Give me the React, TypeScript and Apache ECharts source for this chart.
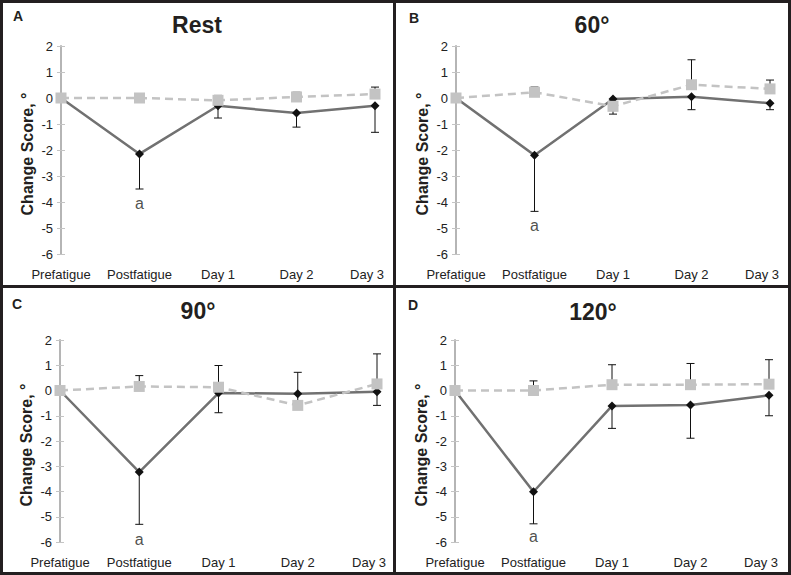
import React, { useEffect, useRef } from "react";
import * as echarts from "echarts";

const categories = ["Prefatigue", "Postfatigue", "Day 1", "Day 2", "Day 3"];
const panelTitles = ["Rest", "60°", "90°", "120°"];
const panelLetters = ["A", "B", "C", "D"];
const yTicks = [-6, -5, -4, -3, -2, -1, 0, 1, 2];

// fatigued group (solid line, diamonds), error bar end (lower)
const restFatigued = [0, -2.15, -0.3, -0.58, -0.3];
const restFatiguedErr = [0, -3.5, -0.77, -1.12, -1.32];
const restControl = [0, 0, -0.09, 0.04, 0.15];
const restControlErr = [0, 0, 0.1, 0.22, 0.42];

const deg60Fatigued = [0, -2.2, -0.04, 0.05, -0.2];
const deg60FatiguedErr = [0, -4.36, -0.62, -0.45, -0.45];
const deg60Control = [0, 0.22, -0.32, 0.51, 0.35];
const deg60ControlErr = [0, 0.42, -0.32, 1.47, 0.69];

const deg90Fatigued = [0, -3.23, -0.1, -0.13, -0.05];
const deg90FatiguedErr = [0, -5.3, -0.88, -0.13, -0.59];
const deg90Control = [0, 0.16, 0.13, -0.59, 0.26];
const deg90ControlErr = [0, 0.59, 0.99, 0.72, 1.45];

const deg120Fatigued = [0, -4.01, -0.61, -0.57, -0.19];
const deg120FatiguedErr = [0, -5.28, -1.5, -1.89, -1.0];
const deg120Control = [0, 0, 0.23, 0.23, 0.25];
const deg120ControlErr = [0, 0.38, 1.02, 1.07, 1.22];

// significance marker "a" at Postfatigue
const sigLabel = "a";
const sigValues = [-4.05, -4.9, -5.9, -5.8];

const fatiguedSets = [restFatigued, deg60Fatigued, deg90Fatigued, deg120Fatigued];
const fatiguedErrSets = [restFatiguedErr, deg60FatiguedErr, deg90FatiguedErr, deg120FatiguedErr];
const controlSets = [restControl, deg60Control, deg90Control, deg120Control];
const controlErrSets = [restControlErr, deg60ControlErr, deg90ControlErr, deg120ControlErr];

const FONT = "'Liberation Sans', Arial, Helvetica, sans-serif";
const INK = "#231f20";

const grids = [
  { left: 61, top: 46, width: 314, height: 208 },
  { left: 456, top: 46, width: 314, height: 208 },
  { left: 60, top: 340, width: 317, height: 202 },
  { left: 455, top: 340, width: 314, height: 202 },
];
const titlePos = [
  [197, 25],
  [592, 25],
  [198, 311],
  [593, 312],
];
const letterPos = [
  [18, 16],
  [414, 18],
  [17, 304],
  [413, 305],
];

function errorBarSeries(gi: number, means: number[], ends: number[], z: number) {
  const data = means
    .map((m, i) => [i, m, ends[i]])
    .filter((d) => Math.abs(d[2] - d[1]) > 0.01);
  return {
    type: "custom",
    xAxisIndex: gi,
    yAxisIndex: gi * 2,
    z,
    silent: true,
    renderItem: (params: any, api: any) => {
      const x = api.value(0);
      const a = api.coord([x, api.value(1)]);
      const b = api.coord([x, api.value(2)]);
      const cap = 4;
      const st = { stroke: "#111", lineWidth: 1 };
      return {
        type: "group",
        children: [
          { type: "line", shape: { x1: a[0], y1: a[1], x2: b[0], y2: b[1] }, style: st },
          { type: "line", shape: { x1: b[0] - cap, y1: b[1], x2: b[0] + cap, y2: b[1] }, style: st },
        ],
      };
    },
    data,
  };
}

export default function App() {
  const ref = useRef<HTMLDivElement>(null);
  useEffect(() => {
    if (!ref.current) return;
    const chart = echarts.init(ref.current, undefined, { renderer: "svg" });

    const xAxis: any[] = [];
    const yAxis: any[] = [];
    const series: any[] = [];
    const graphic: any[] = [];

    grids.forEach((g, i) => {
      xAxis.push({
        gridIndex: i,
        type: "category",
        data: categories,
        boundaryGap: false,
        position: "bottom",
        axisLine: { show: false, onZero: false },
        axisTick: { show: false },
        splitLine: { show: false },
        axisLabel: {
          margin: 14,
          fontSize: 13,
          color: "#222",
          fontFamily: FONT,
          interval: 0,
          formatter: (v: string, idx: number) =>
            idx === categories.length - 1 ? "{last|" + v + "}" : v,
          rich: {
            last: { fontSize: 13, color: "#222", fontFamily: FONT, padding: [0, 16, 0, 0] },
          },
        },
      });
      yAxis.push({
        gridIndex: i,
        type: "value",
        min: yTicks[0],
        max: yTicks[yTicks.length - 1],
        interval: 1,
        splitLine: { show: false },
        axisLine: { show: true, onZero: false, lineStyle: { color: "#b5b5b5", width: 2 } },
        axisTick: { show: true, length: 4, lineStyle: { color: "#c4c4c4", width: 1 } },
        axisLabel: { margin: 8, fontSize: 13, color: "#222", fontFamily: FONT },
        name: "Change Score, °",
        nameLocation: "middle",
        nameGap: 26,
        nameTextStyle: {
          fontSize: 16,
          fontWeight: "bold",
          color: INK,
          fontFamily: FONT,
          padding: [0, 8, 0, 0],
        },
      });
      yAxis.push({
        gridIndex: i,
        type: "value",
        min: yTicks[0],
        max: yTicks[yTicks.length - 1],
        interval: 1,
        position: "left",
        splitLine: { show: false },
        axisLine: { show: false },
        axisTick: { show: true, inside: true, length: 4, lineStyle: { color: "#c4c4c4", width: 1 } },
        axisLabel: { show: false },
      });

      series.push(errorBarSeries(i, fatiguedSets[i], fatiguedErrSets[i], 1));
      series.push(errorBarSeries(i, controlSets[i], controlErrSets[i], 1));
      series.push({
        type: "line",
        xAxisIndex: i,
        yAxisIndex: i * 2,
        z: 3,
        data: fatiguedSets[i],
        symbol: "diamond",
        symbolSize: 9,
        itemStyle: { color: "#111" },
        lineStyle: { color: "#717171", width: 2.5 },
      });
      series.push({
        type: "line",
        xAxisIndex: i,
        yAxisIndex: i * 2,
        z: 4,
        data: controlSets[i],
        symbol: "rect",
        symbolSize: 11,
        itemStyle: { color: "#c3c3c3" },
        lineStyle: { color: "#c3c3c3", width: 2.5, type: [8, 5] },
      });
      series.push({
        type: "scatter",
        xAxisIndex: i,
        yAxisIndex: i * 2,
        z: 5,
        symbolSize: 0,
        data: [[categories[1], sigValues[i]]],
        label: {
          show: true,
          position: "inside",
          formatter: sigLabel,
          fontSize: 16,
          color: INK,
          fontFamily: FONT,
        },
      });

      graphic.push({
        type: "text",
        x: titlePos[i][0],
        y: titlePos[i][1],
        style: {
          text: panelTitles[i],
          fontSize: 23,
          fontWeight: "bold",
          fill: INK,
          fontFamily: FONT,
          align: "center",
          verticalAlign: "middle",
        },
      });
      graphic.push({
        type: "text",
        x: letterPos[i][0],
        y: letterPos[i][1],
        style: {
          text: panelLetters[i],
          fontSize: 14,
          fontWeight: "bold",
          fill: INK,
          fontFamily: FONT,
          align: "center",
          verticalAlign: "middle",
        },
      });
    });

    // panel frames
    const frame = [
      { x: 0, y: 0, width: 3, height: 575 },
      { x: 0, y: 0, width: 791, height: 3 },
      { x: 788, y: 0, width: 3, height: 575 },
      { x: 0, y: 572, width: 791, height: 3 },
      { x: 393, y: 0, width: 3, height: 575 },
      { x: 0, y: 285, width: 791, height: 3 },
    ];
    frame.forEach((r) => {
      graphic.push({ type: "rect", shape: r, style: { fill: INK }, silent: true });
    });

    chart.setOption({
      animation: false,
      backgroundColor: "#ffffff",
      grid: grids,
      xAxis,
      yAxis,
      series,
      graphic,
    });
    return () => chart.dispose();
  }, []);

  return (
    <div
      ref={ref}
      style={{ position: "absolute", left: 0, top: 0, width: 791, height: 575, background: "#fff" }}
    />
  );
}
